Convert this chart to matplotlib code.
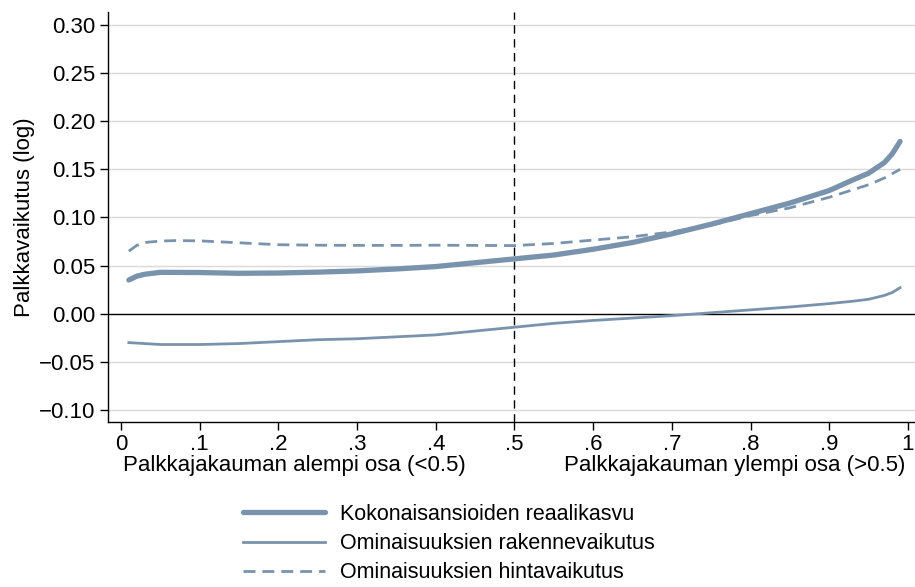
import numpy as np
import matplotlib
matplotlib.use("Agg")
import matplotlib.pyplot as plt
from matplotlib import transforms

plt.rcParams['font.family'] = ['Liberation Sans', 'DejaVu Sans']

# Palkkajakauman kvantiilit
x_koko = [0.01, 0.02, 0.03, 0.05, 0.10, 0.15, 0.20, 0.25, 0.30, 0.35, 0.40, 0.45,
          0.50, 0.55, 0.60, 0.65, 0.70, 0.75, 0.80, 0.85, 0.90, 0.93, 0.95, 0.97,
          0.98, 0.99]
y_koko = [0.035, 0.039, 0.041, 0.043, 0.0428, 0.042, 0.0423, 0.0432, 0.0445, 0.0465,
          0.049, 0.053, 0.057, 0.061, 0.067, 0.074, 0.083, 0.093, 0.104, 0.115,
          0.128, 0.139, 0.146, 0.157, 0.166, 0.179]

x_rak = [0.01, 0.03, 0.05, 0.10, 0.15, 0.20, 0.25, 0.30, 0.35, 0.40, 0.45, 0.50,
         0.55, 0.60, 0.65, 0.70, 0.75, 0.80, 0.85, 0.90, 0.93, 0.95, 0.97, 0.98, 0.99]
y_rak = [-0.030, -0.031, -0.032, -0.032, -0.031, -0.029, -0.027, -0.026, -0.024,
         -0.022, -0.018, -0.014, -0.010, -0.007, -0.0045, -0.002, 0.001, 0.004,
         0.007, 0.0105, 0.013, 0.015, 0.019, 0.022, 0.027]

x_hinta = [0.01, 0.02, 0.03, 0.05, 0.07, 0.10, 0.15, 0.20, 0.25, 0.30, 0.35, 0.40,
           0.45, 0.50, 0.55, 0.60, 0.65, 0.70, 0.75, 0.80, 0.85, 0.90, 0.95, 0.97, 0.99]
y_hinta = [0.065, 0.071, 0.074, 0.0755, 0.076, 0.0757, 0.0737, 0.0717, 0.0712, 0.071,
           0.071, 0.0712, 0.071, 0.0708, 0.073, 0.0765, 0.080, 0.085, 0.092, 0.102,
           0.110, 0.121, 0.134, 0.141, 0.150]

y_ticks = [-0.10, -0.05, 0.00, 0.05, 0.10, 0.15, 0.20, 0.25, 0.30]
x_ticks = [0, 0.1, 0.2, 0.3, 0.4, 0.5, 0.6, 0.7, 0.8, 0.9, 1.0]
x_ticklabels = ['0', '.1', '.2', '.3', '.4', '.5', '.6', '.7', '.8', '.9', '1']

vari = '#7a93ad'
fs = 16

fig = plt.figure(figsize=(9.15, 5.87), dpi=100)
ax = fig.add_axes([108/915, 1 - 422/587, 1 - 108/915, (422 - 12)/587])

ax.set_xlim(-0.0165, 1.009)
ax.set_ylim(-0.1125, 0.3135)

for yt in y_ticks:
    if yt != 0:
        ax.axhline(yt, color='#d9d9d9', lw=1, zorder=0)
ax.axhline(0, color='black', lw=1, zorder=1)
ax.axvline(0.5, color='black', lw=1, dashes=(6, 4), zorder=1)

ax.plot(x_koko, y_koko, color=vari, lw=3.8, solid_capstyle='round',
        label='Kokonaisansioiden reaalikasvu', zorder=3)
ax.plot(x_rak, y_rak, color=vari, lw=2.0, label='Ominaisuuksien rakennevaikutus',
        zorder=3)
ax.plot(x_hinta, y_hinta, color=vari, lw=2.0, dashes=(4.3, 2.5),
        label='Ominaisuuksien hintavaikutus', zorder=3)

ax.set_yticks(y_ticks)
ax.set_yticklabels([f'{v:.2f}'.replace('-', '\u2212') for v in y_ticks], fontsize=fs)
ax.set_xticks(x_ticks)
ax.set_xticklabels(x_ticklabels, fontsize=fs)
ax.tick_params(direction='out', length=6, width=1, color='black', pad=3)

for s in ['top', 'right']:
    ax.spines[s].set_visible(False)
ax.spines['left'].set_linewidth(1)
ax.spines['bottom'].set_linewidth(1)

ax.set_ylabel('Palkkavaikutus (log)', fontsize=fs, labelpad=3)

trans = transforms.blended_transform_factory(ax.transData, ax.transAxes)
ax.text(0.22, -0.107, 'Palkkajakauman alempi osa (<0.5)', transform=trans,
        ha='center', va='center', fontsize=fs)
ax.text(0.78, -0.107, 'Palkkajakauman ylempi osa (>0.5)', transform=trans,
        ha='center', va='center', fontsize=fs)

fig.legend(loc='upper left', bbox_to_anchor=(243/915, 1 - 504/587), frameon=False,
           fontsize=15.5, handlelength=3.8, handletextpad=0.7, labelspacing=0.38,
           borderpad=0, borderaxespad=0)

fig.savefig('out.png', dpi=100)
